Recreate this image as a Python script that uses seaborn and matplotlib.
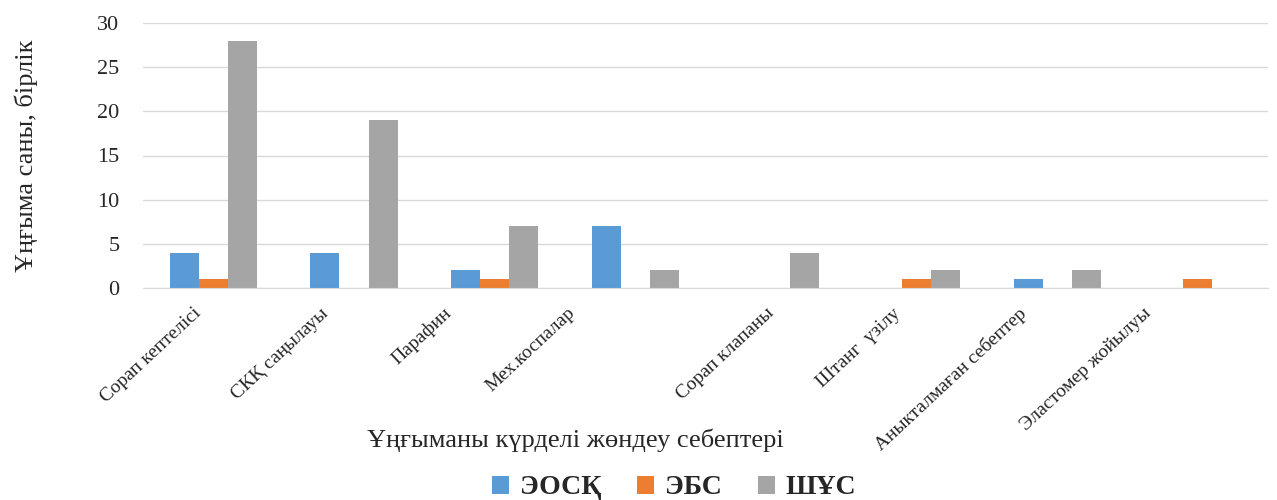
import pandas as pd
import matplotlib
matplotlib.use("Agg")
import matplotlib.pyplot as plt
import matplotlib.transforms as mtransforms
import seaborn as sns

# Reasons for well workover and well counts per pump type
categories = ["Сорап кептелісі", "СКҚ саңылауы", "Парафин", "Мех.коспалар",
              "Сорап клапаны", "Штанг  үзілу", "Аныкталмаған себептер",
              "Эластомер жойылуы"]
series_names = ["ЭОСҚ", "ЭБС", "ШҰС"]
eosk = [4, 4, 2, 7, 0, 0, 1, 0]
ebs = [1, 0, 1, 0, 0, 1, 0, 1]
shus = [28, 19, 7, 2, 4, 2, 2, 0]
colors = ["#5B9BD5", "#ED7D31", "#A5A5A5"]

# horizontal nudge (px) of each rotated tick label, as laid out in the original
label_shift = [-20, -34, -52, -68, -10, -24, -39, -55]

df = pd.DataFrame({
    "reason": categories * 3,
    "series": [s for s in series_names for _ in categories],
    "value": eosk + ebs + shus,
})

sns.set_style("white")
plt.rcParams["font.family"] = ["Liberation Serif", "DejaVu Serif"]

fig, ax = plt.subplots(figsize=(12.77, 5), dpi=100)
fig.subplots_adjust(left=0.112, right=0.993, top=0.954, bottom=0.424)

sns.barplot(data=df, x="reason", y="value", hue="series", palette=colors,
            width=0.62, saturation=1, linewidth=0, ax=ax, legend=True)

ax.set_ylim(0, 30)
ax.set_yticks(range(0, 31, 5))
ax.yaxis.grid(True, color="#D9D9D9", linewidth=1)
ax.set_axisbelow(True)
for side in ["top", "right", "left"]:
    ax.spines[side].set_visible(False)
ax.spines["bottom"].set_color("#D9D9D9")
ax.tick_params(axis="both", length=0)
ax.tick_params(axis="y", labelsize=16, pad=17)
ax.tick_params(axis="x", pad=12)

ax.set_xticks(range(len(categories)))
ax.set_xticklabels(categories, rotation=43, ha="right", rotation_mode="anchor",
                   fontsize=14)
for lbl, dx in zip(ax.get_xticklabels(), label_shift):
    lbl.set_transform(lbl.get_transform() +
                      mtransforms.ScaledTranslation(dx / 100, 0, fig.dpi_scale_trans))

ax.set_ylabel("Ұңғыма саны, бірлік", fontsize=19)
ax.yaxis.set_label_coords(-0.093, 0.5)
ax.set_xlabel("Ұңғыманы күрделі жөндеу себептері", fontsize=19)
ax.xaxis.set_label_coords(0.384, -0.53)

handles, labels = ax.get_legend_handles_labels()
ax.get_legend().remove()
fig.legend(handles, labels, loc="center", bbox_to_anchor=(0.528, 0.024),
           ncol=3, frameon=False, handlelength=0.6, handleheight=0.6,
           columnspacing=1.3, handletextpad=0.4,
           prop={"family": "Liberation Serif", "weight": "bold", "size": 20})

plt.savefig("out.png", dpi=100)
